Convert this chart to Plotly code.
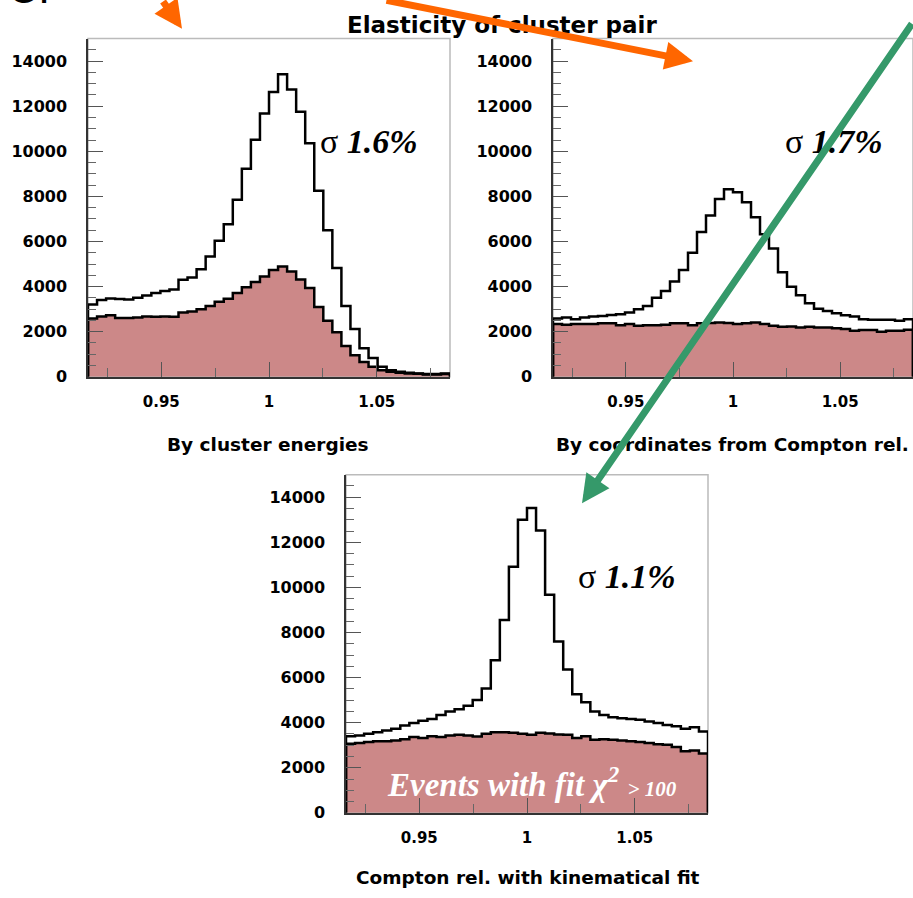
import numpy as np
import plotly.graph_objects as go

# ---------------- data ----------------
x_lo, x_hi, n_bins = 0.916, 1.084, 40
edges = np.linspace(x_lo, x_hi, n_bins + 1)

# counts in thousands
energy_all = [3.21, 3.40, 3.47, 3.45, 3.43, 3.50, 3.60, 3.72, 3.80, 3.87,
              4.30, 4.40, 4.77, 5.33, 6.03, 6.76, 7.85, 9.23, 10.51, 11.68,
              12.63, 13.42, 12.74, 11.75, 10.36, 8.25, 6.50, 4.82, 3.14, 2.12,
              1.27, 0.83, 0.44, 0.29, 0.22, 0.18, 0.15, 0.12, 0.12, 0.15]
energy_bad = [2.58, 2.67, 2.73, 2.61, 2.61, 2.63, 2.67, 2.66, 2.67, 2.66,
              2.85, 2.90, 2.99, 3.14, 3.33, 3.46, 3.72, 3.97, 4.20, 4.45,
              4.74, 4.89, 4.67, 4.31, 3.94, 3.09, 2.48, 1.97, 1.36, 0.95,
              0.66, 0.44, 0.29, 0.22, 0.18, 0.15, 0.13, 0.10, 0.10, 0.12]
coord_all = [2.58, 2.63, 2.55, 2.63, 2.67, 2.70, 2.74, 2.77, 2.85, 2.99,
             3.14, 3.50, 3.80, 4.23, 4.74, 5.50, 6.42, 7.15, 7.88, 8.32,
             8.18, 7.74, 7.08, 6.32, 5.69, 4.63, 3.99, 3.61, 3.26, 3.02,
             2.92, 2.82, 2.73, 2.67, 2.55, 2.53, 2.53, 2.53, 2.48, 2.55]
coord_bad = [2.34, 2.31, 2.34, 2.34, 2.34, 2.37, 2.37, 2.29, 2.34, 2.26,
             2.29, 2.29, 2.31, 2.37, 2.37, 2.29, 2.37, 2.38, 2.41, 2.38,
             2.34, 2.37, 2.41, 2.34, 2.26, 2.22, 2.23, 2.19, 2.22, 2.19,
             2.19, 2.15, 2.12, 2.04, 2.07, 2.07, 2.00, 2.04, 2.04, 2.09]
fit_all = [3.40, 3.43, 3.51, 3.58, 3.65, 3.73, 3.87, 3.99, 4.09, 4.16,
           4.34, 4.49, 4.60, 4.75, 5.01, 5.52, 6.77, 8.55, 10.92, 13.00,
           13.52, 12.52, 9.67, 7.60, 6.36, 5.26, 4.90, 4.49, 4.34, 4.24,
           4.19, 4.16, 4.13, 4.05, 3.99, 3.90, 3.84, 3.73, 3.80, 3.61]
fit_bad = [3.07, 3.10, 3.14, 3.17, 3.17, 3.21, 3.26, 3.36, 3.32, 3.40,
           3.36, 3.43, 3.46, 3.43, 3.39, 3.51, 3.58, 3.58, 3.55, 3.51,
           3.46, 3.55, 3.52, 3.48, 3.46, 3.32, 3.40, 3.24, 3.26, 3.24,
           3.21, 3.17, 3.14, 3.10, 3.04, 3.02, 2.92, 2.73, 2.76, 2.63]

panel_titles = ["By cluster energies", "By coordinates from Compton rel.",
                "Compton rel. with kinematical fit"]
sigma_labels = ["1.6%", "1.7%", "1.1%"]
main_title = "Elasticity of cluster pair"

# ---------------- figure ----------------
W, H = 913, 898
FILL = "#cc8888"


def px(x, y):
    return x / W, 1 - y / H


def step(vals):
    v = [k * 1000 for k in vals]
    xs = [edges[0]] + list(edges) + [edges[-1]]
    ys = [0] + v + [v[-1]] + [0]
    return xs, ys


fig = go.Figure()

panels = [
    (energy_all, energy_bad, "x", "y"),
    (coord_all, coord_bad, "x2", "y2"),
    (fit_all, fit_bad, "x3", "y3"),
]
for all_v, bad_v, xa, ya in panels:
    bx, by = step(bad_v)
    fig.add_trace(go.Scatter(x=bx, y=by, mode="lines", line=dict(color="black", width=2.5, shape="hv"),
                             fill="tozeroy", fillcolor=FILL, xaxis=xa, yaxis=ya, showlegend=False,
                             hoverinfo="skip"))
    ax_, ay_ = step(all_v)
    fig.add_trace(go.Scatter(x=ax_, y=ay_, mode="lines", line=dict(color="black", width=2.5, shape="hv"),
                             xaxis=xa, yaxis=ya, showlegend=False, hoverinfo="skip"))

tickfont = dict(family="DejaVu Sans", size=16, color="black", weight="bold")
xtickfont = dict(family="DejaVu Sans", size=15, color="black", weight="bold")


def xaxis(dom, anchor):
    return dict(domain=dom, anchor=anchor, range=[x_lo, x_hi], showgrid=False, zeroline=False,
                showline=True, linecolor="#333", linewidth=1.5,
                ticks="inside", ticklen=15, tickwidth=1.3, tickcolor="#555",
                tick0=0, dtick=0.05, tickfont=xtickfont, ticklabelstandoff=10,
                minor=dict(ticks="inside", dtick=0.025, tick0=0, ticklen=9, tickwidth=1.2, tickcolor="#666"))


def yaxis(dom, anchor):
    return dict(domain=dom, anchor=anchor, range=[0, 15000], showgrid=False, zeroline=False,
                showline=True, linecolor="#333", linewidth=1.5,
                ticks="inside", ticklen=15, tickwidth=1.3, tickcolor="#555",
                tick0=0, dtick=2000, tickformat="d", tickfont=tickfont, ticklabelstandoff=16,
                minor=dict(ticks="inside", dtick=500, tick0=0, ticklen=8, tickwidth=1.2, tickcolor="#666"))


dom_top = [1 - 381 / H, 1 - 39 / H]
dom_bot = [1 - 822 / H, 1 - 480 / H]
fig.update_layout(
    xaxis=xaxis([88 / W, 450 / W], "y"),
    yaxis=yaxis(dom_top, "x"),
    xaxis2=xaxis([553 / W, 1.0], "y2"),
    yaxis2=yaxis(dom_top, "x2"),
    xaxis3=xaxis([346 / W, 708 / W], "y3"),
    yaxis3=yaxis(dom_bot, "x3"),
)

shapes = []
for xr, yr in [("x", "y"), ("x2", "y2"), ("x3", "y3")]:
    shapes.append(dict(type="rect", xref=f"{xr} domain", yref=f"{yr} domain", x0=0, x1=1, y0=0, y1=1,
                       line=dict(color="#bbbbbb", width=1.5), layer="below"))

ann = []
# big label in corner
cx, cy = px(6, 14)
ann.append(dict(text="C.", x=cx, y=cy, xref="paper", yref="paper", xanchor="left", yanchor="bottom",
                showarrow=False, font=dict(family="Liberation Sans", size=42, color="black")))
# title
tx, ty = px(502, 25)
ann.append(dict(text=main_title, x=tx, y=ty, xref="paper", yref="paper", showarrow=False,
                xanchor="center", yanchor="middle",
                font=dict(family="DejaVu Sans", size=23, color="black", weight="bold")))
# panel subtitles
for t, (sx, sy) in zip(panel_titles, [(268, 450), (732, 450), (528, 887)]):
    a, b = px(sx, sy)
    ann.append(dict(text=t, x=a, y=b, xref="paper", yref="paper", showarrow=False,
                    xanchor="center", yanchor="middle",
                    font=dict(family="DejaVu Sans", size=18.5, color="black", weight="bold")))
# sigma labels
for t, (sx, sy) in zip(sigma_labels, [(369, 143), (834, 143), (627, 583)]):
    a, b = px(sx, sy)
    ann.append(dict(text=f"σ <b><i>{t}</i></b>", x=a, y=b, xref="paper", yref="paper", showarrow=False,
                    xanchor="center", yanchor="middle",
                    font=dict(family="Liberation Serif", size=34, color="black")))
# events label
ex, ey = px(532, 791)
ann.append(dict(text="<b><i>Events with fit χ<sup>2</sup> <span style='font-size:21px'>&gt; 100</span></i></b>",
                x=ex, y=ey, xref="paper", yref="paper", showarrow=False,
                xanchor="center", yanchor="middle",
                font=dict(family="Liberation Serif", size=33, color="white")))

# arrows (tails kept on the canvas edge, along the reference direction)
ORANGE = "#ff6600"
GREEN = "#35996a"
for (tipx, tipy), (tailx, taily), col in [((182, 29), (162, -2), ORANGE),
                                         ((693, 62), (385, -1), ORANGE),
                                         ((582, 509), (914, 28), GREEN)]:
    a, b = px(tipx, tipy)
    ann.append(dict(text="", x=a, y=b, xref="paper", yref="paper", showarrow=True,
                    ax=tailx - tipx, ay=taily - tipy, axref="pixel", ayref="pixel",
                    arrowhead=2, arrowsize=0.8, arrowwidth=7, arrowcolor=col, standoff=0))

fig.update_layout(
    width=W, height=H, margin=dict(l=0, r=0, t=0, b=0),
    paper_bgcolor="white", plot_bgcolor="white",
    shapes=shapes, annotations=ann, showlegend=False,
)

fig.write_html("out.html")
